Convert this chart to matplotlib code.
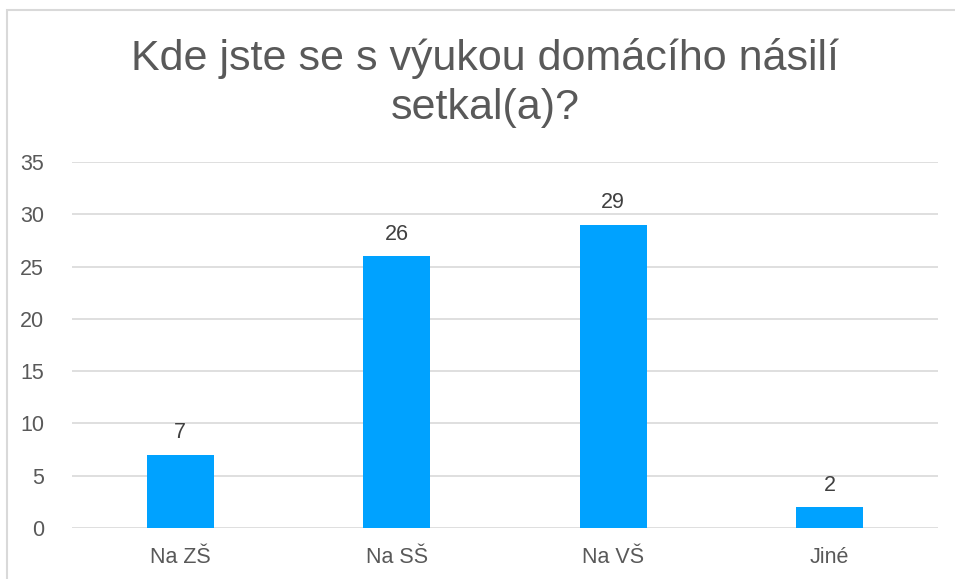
import matplotlib
matplotlib.use("Agg")
import matplotlib.pyplot as plt
from matplotlib.patches import Rectangle

categories = ["Na ZŠ", "Na SŠ", "Na VŠ", "Jiné"]
counts = [7, 26, 29, 2]
yticks = [0, 5, 10, 15, 20, 25, 30, 35]

W, H = 955, 579
plt.rcParams["font.family"] = ["Liberation Sans", "DejaVu Sans"]
fig = plt.figure(figsize=(W / 100, H / 100), dpi=100)

# chart frame (right and bottom edges lie outside the picture)
fig.patches.append(Rectangle((7 / W, -0.1), 1.2, 1 - 10 / H + 0.1,
                             transform=fig.transFigure, fill=False,
                             edgecolor="#d9d9d9", linewidth=1.5))

ax = fig.add_axes([72 / W, 1 - 528 / H, (938 - 72) / W, (528 - 162) / H])
x = range(len(categories))
bars = ax.bar(x, counts, width=0.31, color="#00a2ff", zorder=3)
for b, v in zip(bars, counts):
    ax.text(b.get_x() + b.get_width() / 2, v + 1.1, str(v), ha="center",
            va="bottom", fontsize=15.5, color="#404040")

ax.set_xlim(-0.5, len(categories) - 0.5)
ax.set_ylim(0, 35)
ax.set_yticks(yticks)
ax.set_xticks(list(x))
ax.set_xticklabels(categories)
ax.tick_params(length=0, labelsize=15.5, colors="#595959")
ax.tick_params(axis="x", pad=14)
ax.tick_params(axis="y", pad=20)
ax.grid(axis="y", color="#d9d9d9", linewidth=1.2, zorder=0)
for s in ax.spines.values():
    s.set_visible(False)

fig.text(485 / W, 1 - 83 / H, "Kde jste se s výukou domácího násilí\nsetkal(a)?",
         ha="center", va="center", fontsize=31, color="#595959", linespacing=1.3)

fig.savefig("out.png", dpi=100)
